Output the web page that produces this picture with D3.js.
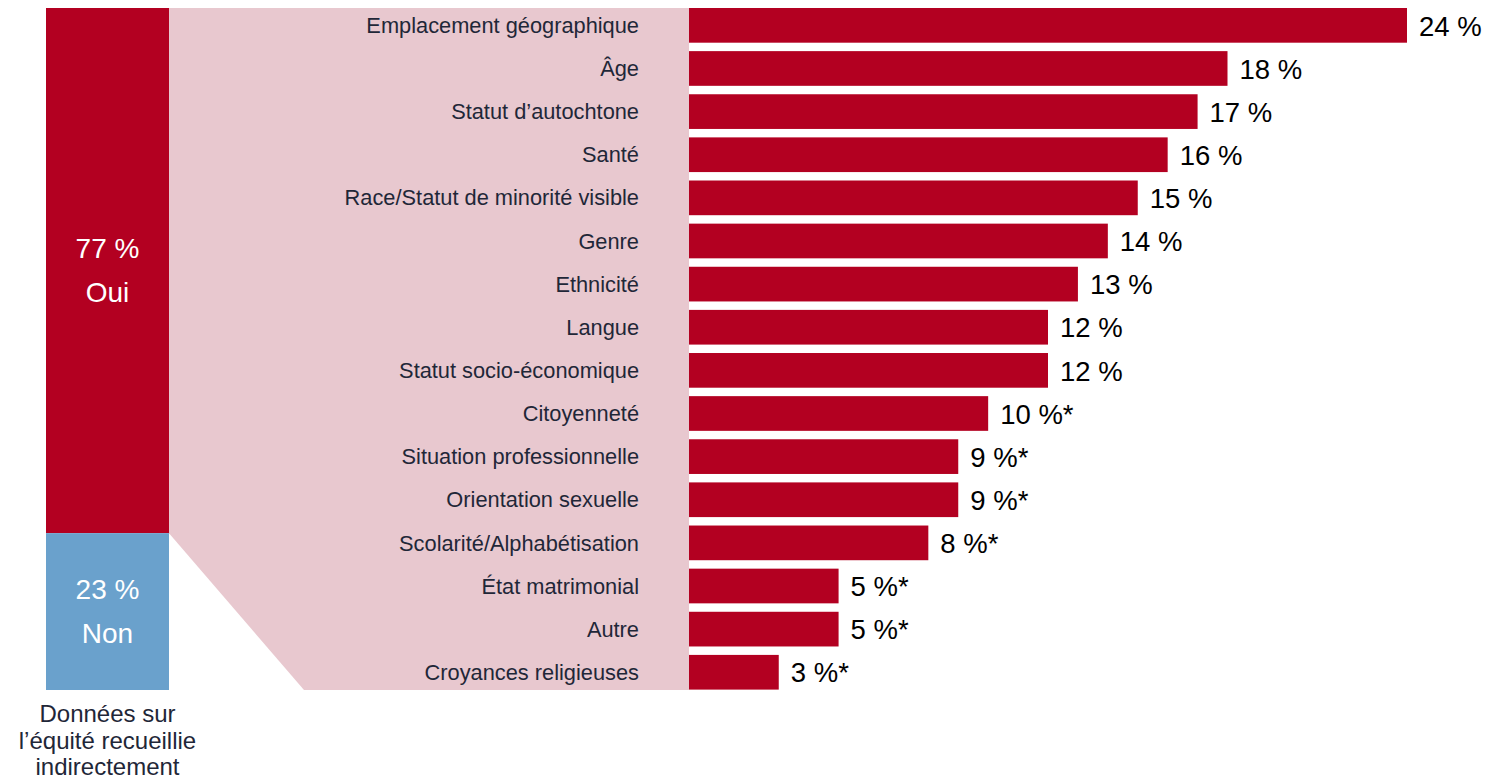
<!DOCTYPE html>
<html lang="fr">
<head>
<meta charset="utf-8">
<script src="https://cdn.jsdelivr.net/npm/d3@7"></script>
<style>
  html, body { margin: 0; padding: 0; background: #ffffff; }
  svg { display: block; font-family: "Liberation Sans", Arial, Helvetica, sans-serif; }
</style>
</head>
<body>
<svg id="chart" width="1487" height="783"></svg>
<script>
// Equity data collected indirectly: yes / no split
const splitLabels = ["Oui", "Non"];
const splitValues = [77, 23];

// Types of equity data collected (share of respondents)
const categories = [
  "Emplacement géographique",
  "Âge",
  "Statut d’autochtone",
  "Santé",
  "Race/Statut de minorité visible",
  "Genre",
  "Ethnicité",
  "Langue",
  "Statut socio-économique",
  "Citoyenneté",
  "Situation professionnelle",
  "Orientation sexuelle",
  "Scolarité/Alphabétisation",
  "État matrimonial",
  "Autre",
  "Croyances religieuses"
];
const values = [24, 18, 17, 16, 15, 14, 13, 12, 12, 10, 9, 9, 8, 5, 5, 3];
// Estimates flagged with an asterisk
const flagged = [false, false, false, false, false, false, false, false, false, true, true, true, true, true, true, true];

const splitCaption = ["Données sur", "l’équité recueillie", "indirectement"];

const RED = "#b30021";
const BLUE = "#6aa1cc";
const PINK = "#e8c8cf";
const TEXT = "#1f2738";

const svg = d3.select("#chart");

// Left stacked column
const colX0 = 46, colX1 = 169;
const yTop = 8, yBottom = 690;
const yStack = d3.scaleLinear().domain([0, 100]).range([yTop, yBottom]);

// Bar chart scales
const x = d3.scaleLinear().domain([0, 24]).range([689, 1407]);
const y = d3.scaleBand().domain(categories).range([yTop, 689.6]).paddingInner(0.1955).paddingOuter(0);

// Pink connector from the "Oui" segment to the bar area
const ouiEnd = yStack(splitValues[0]);
svg.append("polygon")
  .attr("points", [
    [colX1, yTop], [x(0), yTop], [x(0), yBottom], [304, yBottom], [colX1, ouiEnd]
  ].map(p => p.join(",")).join(" "))
  .attr("fill", PINK);

// Stacked segments
let acc = 0;
const segs = splitValues.map((v, i) => {
  const s = { label: splitLabels[i], value: v, y0: yStack(acc), y1: yStack(acc + v) };
  acc += v;
  return s;
});
svg.selectAll("rect.seg").data(segs).join("rect")
  .attr("class", "seg")
  .attr("x", colX0)
  .attr("width", colX1 - colX0)
  .attr("y", d => d.y0)
  .attr("height", d => d.y1 - d.y0)
  .attr("fill", (d, i) => i === 0 ? RED : BLUE);

const segText = svg.selectAll("text.seg").data(segs).join("text")
  .attr("class", "seg")
  .attr("text-anchor", "middle")
  .attr("fill", "#ffffff")
  .attr("font-size", 28);
segText.append("tspan")
  .attr("x", (colX0 + colX1) / 2)
  .attr("y", d => d.label === "Oui" ? 258 : 599)
  .text(d => `${d.value} %`);
segText.append("tspan")
  .attr("x", (colX0 + colX1) / 2)
  .attr("dy", 43.5)
  .text(d => d.label);

// Caption under the column
svg.append("text")
  .attr("text-anchor", "middle")
  .attr("fill", TEXT)
  .attr("font-size", 24)
  .selectAll("tspan").data(splitCaption).join("tspan")
  .attr("x", (colX0 + colX1) / 2)
  .attr("y", (d, i) => 722 + i * 26.7)
  .text(d => d);

// Bars
const rows = categories.map((c, i) => ({ cat: c, value: values[i], flag: flagged[i] }));
svg.selectAll("rect.bar").data(rows).join("rect")
  .attr("class", "bar")
  .attr("x", x(0))
  .attr("y", d => y(d.cat))
  .attr("width", d => x(d.value) - x(0))
  .attr("height", y.bandwidth())
  .attr("fill", RED);

// Category labels
svg.selectAll("text.cat").data(rows).join("text")
  .attr("class", "cat")
  .attr("x", x(0) - 50)
  .attr("y", d => y(d.cat) + y.bandwidth() / 2)
  .attr("dy", "0.35em")
  .attr("text-anchor", "end")
  .attr("fill", TEXT)
  .attr("font-size", 21.8)
  .text(d => d.cat);

// Value labels
svg.selectAll("text.val").data(rows).join("text")
  .attr("class", "val")
  .attr("x", d => x(d.value) + 12)
  .attr("y", d => y(d.cat) + y.bandwidth() / 2)
  .attr("dy", "0.37em")
  .attr("fill", "#000000")
  .attr("font-size", 27.5)
  .text(d => `${d.value} %${d.flag ? "*" : ""}`);
</script>
</body>
</html>
